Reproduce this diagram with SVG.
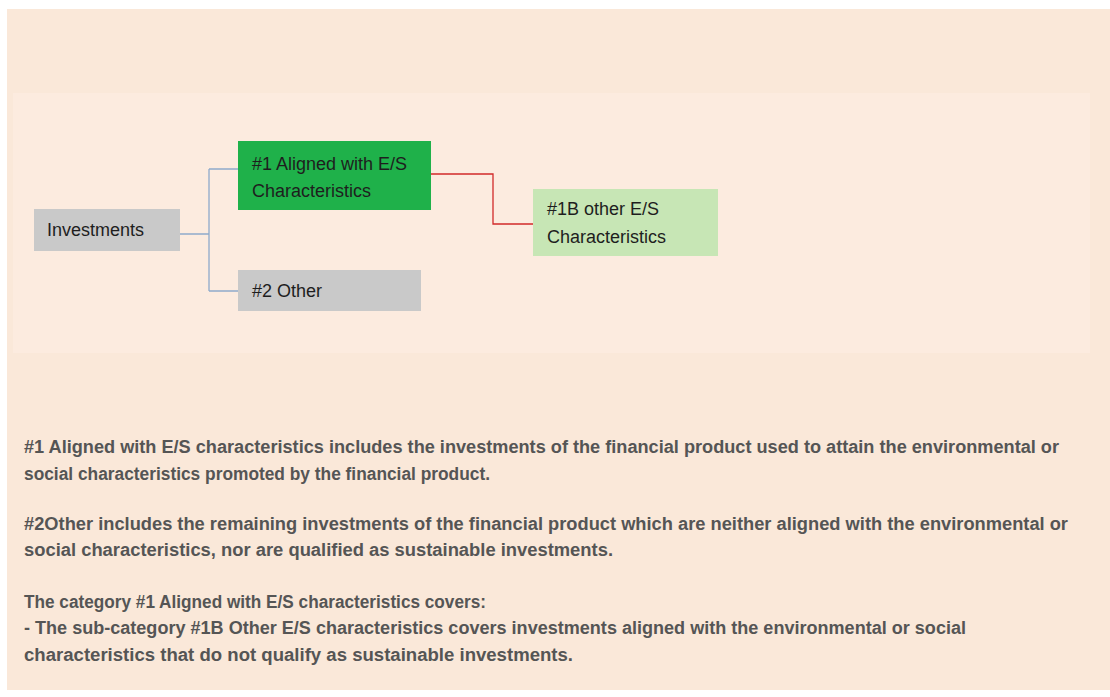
<svg xmlns="http://www.w3.org/2000/svg" width="1110" height="697" viewBox="0 0 1110 697">
<style>
.lbl{font-family:"Liberation Sans",Arial,sans-serif;font-size:18px;fill:#1e1e1e}
.para{font-family:"Liberation Sans",Arial,sans-serif;font-size:17.5px;font-weight:bold;fill:#555555}
.conn{fill:none;stroke-width:1.3}
</style>
<rect x="0" y="0" width="1110" height="697" fill="#ffffff"/>
<rect x="7" y="9" width="1103" height="681" fill="#fae8d9"/>
<rect x="13" y="93" width="1077" height="260" fill="#fcebdf"/>
<g id="connectors">
<path class="conn" stroke="#8eaacb" d="M180,234 H209 M209,169 V291 M209,169 H238 M209,291 H238"/>
<path class="conn" stroke="#d12a2a" d="M431,174 H493 V224 H533"/>
</g>
<g id="investments">
<rect x="34" y="209" width="146" height="42" fill="#c9c9c9"/>
<text class="lbl" x="47" y="236">Investments</text>
</g>
<g id="aligned">
<rect x="238" y="141" width="193" height="69" fill="#1fb14a"/>
<text class="lbl" x="252" y="170">#1 Aligned with E/S</text>
<text class="lbl" x="252" y="197">Characteristics</text>
</g>
<g id="other">
<rect x="238" y="270" width="183" height="41" fill="#c9c9c9"/>
<text class="lbl" x="252" y="297">#2 Other</text>
</g>
<g id="other-es">
<rect x="533" y="189" width="185" height="67" fill="#c7e6b5"/>
<text class="lbl" x="547" y="215">#1B other E/S</text>
<text class="lbl" x="547" y="243">Characteristics</text>
</g>
<g id="notes">
<text class="para" x="24" y="453" textLength="1035" lengthAdjust="spacingAndGlyphs">#1 Aligned with E/S characteristics includes the investments of the financial product used to attain the environmental or</text>
<text class="para" x="24" y="480" textLength="466" lengthAdjust="spacingAndGlyphs">social characteristics promoted by the financial product.</text>
<text class="para" x="24" y="530" textLength="1044" lengthAdjust="spacingAndGlyphs">#2Other includes the remaining investments of the financial product which are neither aligned with the environmental or</text>
<text class="para" x="24" y="556" textLength="589" lengthAdjust="spacingAndGlyphs">social characteristics, nor are qualified as sustainable investments.</text>
<text class="para" x="24" y="608" textLength="462" lengthAdjust="spacingAndGlyphs">The category #1 Aligned with E/S characteristics covers:</text>
<text class="para" x="24" y="634" textLength="942" lengthAdjust="spacingAndGlyphs">- The sub-category #1B Other E/S characteristics covers investments aligned with the environmental or social</text>
<text class="para" x="24" y="661" textLength="549" lengthAdjust="spacingAndGlyphs">characteristics that do not qualify as sustainable investments.</text>
</g>
</svg>
